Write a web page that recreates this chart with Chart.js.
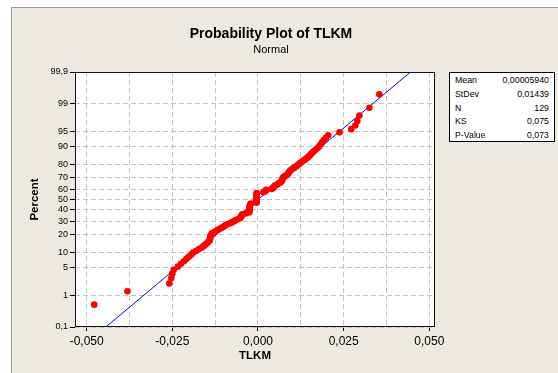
<!DOCTYPE html>
<html>
<head>
<meta charset="utf-8">
<script src="https://cdn.jsdelivr.net/npm/chart.js@4.4.1/dist/chart.umd.min.js"></script>
<style>
    body { margin: 0; background: #fff; width: 558px; height: 373px; overflow: hidden; position: relative; font-family: 'Liberation Sans', Arial, sans-serif; }
    #painel { position: absolute; left: 11px; top: 7px; width: 547px; height: 366px; background: #ede9e0; border-left: 1px solid #9a9a9a; border-top: 1px solid #9a9a9a; }
    #grafico { position: absolute; left: 0; top: 0; }
    .titulo { position: absolute; left: 0; width: 542px; text-align: center; color: #000; }
    #titulo { top: 26px; font-size: 14px; line-height: 14px; font-weight: bold; }
    #subtitulo { top: 44px; font-size: 11px; line-height: 11px; }
    #estatisticas { position: absolute; left: 449px; top: 72px; width: 106px; height: 70px; background: #fff; border: 1px solid #000; font-size: 8.8px; padding-top: 1px; box-sizing: border-box; }
    #estatisticas div { height: 13.8px; line-height: 13.8px; position: relative; }
    #estatisticas span.nome { position: absolute; left: 5px; }
    #estatisticas span.valor { position: absolute; right: 5px; }
</style>
</head>
<body>
<div id="painel"></div>
<canvas id="grafico" width="558" height="373"></canvas>
<div class="titulo" id="titulo">Probability Plot of TLKM</div>
<div class="titulo" id="subtitulo">Normal</div>
<div id="estatisticas"></div>
<script>
// valores ordenados de TLKM
const tlkm = [
    -0.0478, -0.0381, -0.0259, -0.0253, -0.0250, -0.0246, -0.0234, -0.0225, -0.0216, -0.0209,
    -0.0202, -0.0195, -0.0190, -0.0181, -0.0173, -0.0165, -0.0159, -0.0154, -0.0149, -0.0145,
    -0.0141, -0.0140, -0.0140, -0.0139, -0.0138, -0.0136, -0.0134, -0.0129, -0.0123, -0.0118,
    -0.0113, -0.0107, -0.0102, -0.0098, -0.0094, -0.0088, -0.0080, -0.0075, -0.0070, -0.0066,
    -0.0061, -0.0054, -0.0051, -0.0050, -0.0048, -0.0047, -0.0045, -0.0035, -0.0026, -0.0026,
    -0.0025, -0.0025, -0.0025, -0.0025, -0.0024, -0.0024, -0.0024, -0.0023, -0.0022, -0.0021,
    -0.0004, -0.0004, -0.0004, -0.0004, -0.0004, -0.0004, -0.0004, -0.0004, -0.0004, -0.0004,
    -0.0004, -0.0004, -0.0004, 0.0016, 0.0020, 0.0022, 0.0024, 0.0040, 0.0043, 0.0045,
    0.0047, 0.0050, 0.0055, 0.0058, 0.0062, 0.0066, 0.0069, 0.0070, 0.0071, 0.0072,
    0.0073, 0.0075, 0.0080, 0.0085, 0.0087, 0.0089, 0.0091, 0.0093, 0.0096, 0.0100,
    0.0105, 0.0110, 0.0114, 0.0118, 0.0122, 0.0126, 0.0131, 0.0136, 0.0141, 0.0146,
    0.0150, 0.0154, 0.0158, 0.0163, 0.0168, 0.0174, 0.0179, 0.0183, 0.0187, 0.0192,
    0.0198, 0.0205, 0.0238, 0.0272, 0.0284, 0.0290, 0.0296, 0.0325, 0.0354
];

const percentTicks = [0.1, 1, 5, 10, 20, 30, 40, 50, 60, 70, 80, 90, 95, 99, 99.9];
const percentLabels = ['0,1', '1', '5', '10', '20', '30', '40', '50', '60', '70', '80', '90', '95', '99', '99,9'];
const xTicks = [-0.05, -0.0375, -0.025, -0.0125, 0, 0.0125, 0.025, 0.0375, 0.05];
const xLabels = ['-0,050', '', '-0,025', '', '0,000', '', '0,025', '', '0,050'];
const statNames = ['Mean', 'StDev', 'N', 'KS', 'P-Value'];
const statValues = ['0,00005940', '0,01439', '129', '0,075', '0,073'];
const mediaAjuste = 0.0000594;
const desvioAjuste = 0.01439;

// inversa da normal padrão (Acklam)
function probit(p) {
    const a = [-3.969683028665376e+01, 2.209460984245205e+02, -2.759285104469687e+02, 1.383577518672690e+02, -3.066479806614716e+01, 2.506628277459239e+00];
    const b = [-5.447609879822406e+01, 1.615858368580409e+02, -1.556989798598866e+02, 6.680131188771972e+01, -1.328068155288572e+01];
    const c = [-7.784894002430293e-03, -3.223964580411365e-01, -2.400758277161838e+00, -2.549732539343734e+00, 4.374664141464968e+00, 2.938163982698783e+00];
    const d = [7.784695709041462e-03, 3.224671290700398e-01, 2.445134137142996e+00, 3.754408661907416e+00];
    const plow = 0.02425;
    let q, r;
    if (p < plow) {
        q = Math.sqrt(-2 * Math.log(p));
        return (((((c[0] * q + c[1]) * q + c[2]) * q + c[3]) * q + c[4]) * q + c[5]) / ((((d[0] * q + d[1]) * q + d[2]) * q + d[3]) * q + 1);
    }
    if (p > 1 - plow) {
        q = Math.sqrt(-2 * Math.log(1 - p));
        return -(((((c[0] * q + c[1]) * q + c[2]) * q + c[3]) * q + c[4]) * q + c[5]) / ((((d[0] * q + d[1]) * q + d[2]) * q + d[3]) * q + 1);
    }
    q = p - 0.5;
    r = q * q;
    return (((((a[0] * r + a[1]) * r + a[2]) * r + a[3]) * r + a[4]) * r + a[5]) * q / (((((b[0] * r + b[1]) * r + b[2]) * r + b[3]) * r + b[4]) * r + 1);
}

const n = tlkm.length;
const zMin = probit(percentTicks[0] / 100);
const zMax = probit(percentTicks[percentTicks.length - 1] / 100);

// posição de plotagem (rank mediano, como no Minitab)
const pontos = tlkm.map((v, i) => ({ x: v, y: probit((i + 1 - 0.3) / (n + 0.4)) }));
const linhaAjuste = [
    { x: mediaAjuste + desvioAjuste * zMin, y: zMin },
    { x: mediaAjuste + desvioAjuste * zMax, y: zMax }
];

const caixa = document.getElementById('estatisticas');
statNames.forEach((nome, i) => {
    caixa.insertAdjacentHTML('beforeend', `<div><span class="nome">${nome}</span><span class="valor">${statValues[i]}</span></div>`);
});

const fonte = "'Liberation Sans', Arial, sans-serif";

const areaPlot = {
    id: 'areaPlot',
    beforeDraw(chart) {
        const { ctx, chartArea: a } = chart;
        ctx.save();
        ctx.fillStyle = '#fff';
        ctx.fillRect(a.left, a.top, a.width, a.height);
        ctx.restore();
    },
    afterDraw(chart) {
        const { ctx, chartArea: a } = chart;
        ctx.save();
        ctx.strokeStyle = '#111';
        ctx.lineWidth = 1;
        ctx.strokeRect(a.left + 0.5, a.top + 0.5, a.width - 1, a.height - 1);
        ctx.restore();
    }
};

new Chart(document.getElementById('grafico').getContext('2d'), {
    type: 'scatter',
    data: {
        datasets: [{
            label: 'TLKM',
            data: pontos,
            backgroundColor: '#ff0000',
            borderWidth: 0,
            pointRadius: 3.3
        }, {
            label: 'Ajuste',
            data: linhaAjuste,
            showLine: true,
            borderColor: '#0000ff',
            borderWidth: 1,
            pointRadius: 0
        }]
    },
    options: {
        responsive: false,
        animation: false,
        layout: { padding: { left: 0, top: 72, right: 123, bottom: 0 } },
        plugins: {
            legend: { display: false },
            tooltip: { enabled: false }
        },
        scales: {
            x: {
                type: 'linear',
                bounds: 'data',
                min: -0.05341,
                max: 0.05166,
                afterBuildTicks: s => { s.ticks = xTicks.map(v => ({ value: v })); },
                afterFit: s => { s.height = 46; },
                ticks: {
                    autoSkip: false,
                    maxRotation: 0,
                    padding: 3,
                    color: '#000',
                    font: { family: fonte, size: 12 },
                    callback: (v, i) => xLabels[i]
                },
                grid: {
                    color: '#c4c4c4',
                    tickLength: 4,
                    tickColor: ctx => xLabels[ctx.index] ? '#000' : 'rgba(0,0,0,0)'
                },
                border: { display: false, dash: [5, 3] },
                title: {
                    display: true,
                    text: 'TLKM',
                    color: '#000',
                    font: { family: fonte, size: 11.5, weight: 'bold' },
                    padding: { top: 0, bottom: 10 }
                }
            },
            y: {
                type: 'linear',
                bounds: 'data',
                min: zMin,
                max: zMax,
                afterBuildTicks: s => { s.ticks = percentTicks.map(p => ({ value: probit(p / 100) })); },
                afterFit: s => { s.width = 75; },
                ticks: {
                    autoSkip: false,
                    padding: 2,
                    color: '#000',
                    font: { family: fonte, size: 9 },
                    callback: (v, i) => percentLabels[i]
                },
                grid: {
                    color: '#c4c4c4',
                    tickLength: 5,
                    tickColor: '#000'
                },
                border: { display: false, dash: [5, 3] },
                title: {
                    display: true,
                    text: 'Percent',
                    color: '#000',
                    font: { family: fonte, size: 11.5, weight: 'bold' },
                    padding: { top: 28, bottom: 0 }
                }
            }
        }
    },
    plugins: [areaPlot]
});
</script>
</body>
</html>
